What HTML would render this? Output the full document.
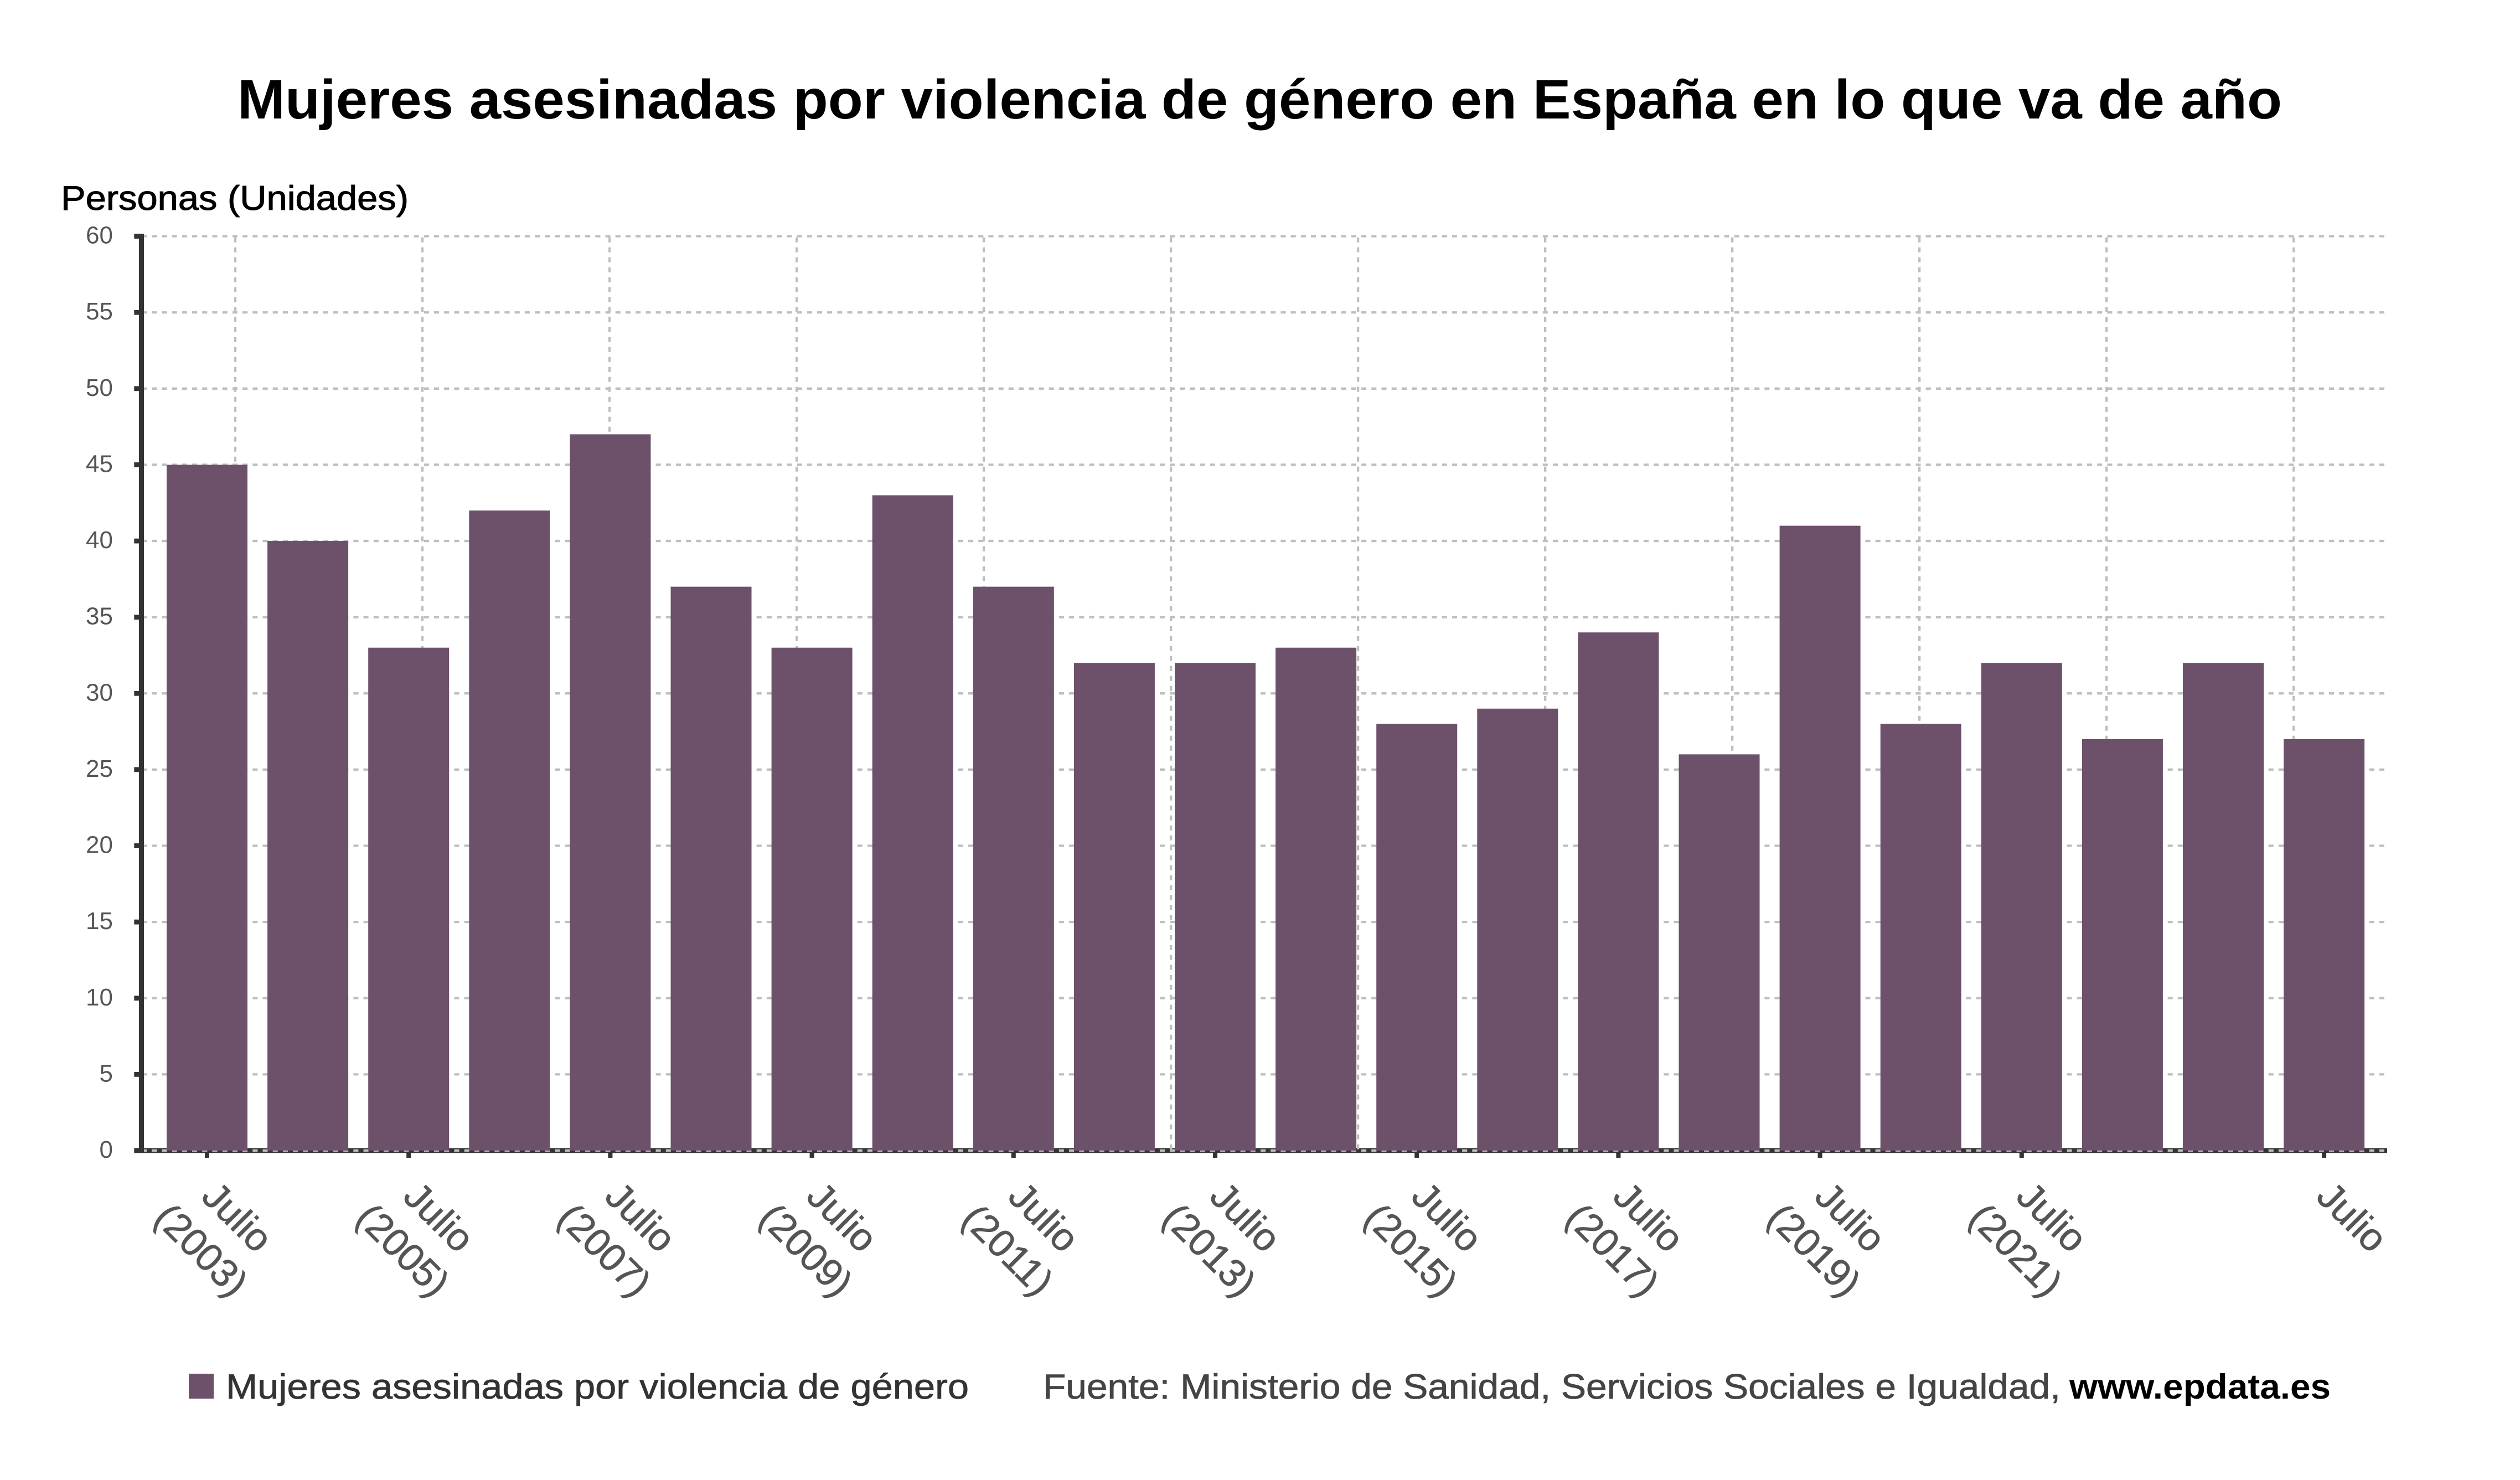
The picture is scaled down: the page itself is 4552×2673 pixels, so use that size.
<!DOCTYPE html>
<html lang="es">
<head>
<meta charset="utf-8">
<title>Mujeres asesinadas por violencia de género</title>
<style>
html,body{margin:0;padding:0;background:#fff;}
svg{display:block;font-family:"Liberation Sans",Arial,sans-serif;}
</style>
</head>
<body>
<svg id="chart" xmlns="http://www.w3.org/2000/svg" width="4552" height="2673" viewBox="0 0 4552 2673">
  <rect x="0" y="0" width="4552" height="2673" fill="#ffffff"/>
  <text x="429" y="214" font-size="100" font-weight="bold" fill="#000000" textLength="3693" lengthAdjust="spacingAndGlyphs">Mujeres asesinadas por violencia de género en España en lo que va de año</text>
  <text x="110" y="379" font-size="62" fill="#000000" stroke="#000000" stroke-width="1" textLength="628" lengthAdjust="spacingAndGlyphs">Personas (Unidades)</text>
  <g id="grid"></g>
  <g id="bars"></g>
  <g id="axes"></g>
  <rect x="341" y="2481" width="45" height="45" fill="#6d5069"/>
  <text x="408" y="2526" font-size="63" fill="#333333" stroke="#333333" stroke-width="0.8" textLength="1342" lengthAdjust="spacingAndGlyphs">Mujeres asesinadas por violencia de género</text>
  <text x="1884" y="2526" font-size="63" fill="#444444" stroke="#444444" stroke-width="0.8" textLength="1838" lengthAdjust="spacingAndGlyphs">Fuente: Ministerio de Sanidad, Servicios Sociales e Igualdad,</text>
  <text x="3738" y="2526" font-size="63" font-weight="bold" fill="#000000" textLength="472" lengthAdjust="spacingAndGlyphs">www.epdata.es</text>
</svg>
<script>
const years = [2003,2004,2005,2006,2007,2008,2009,2010,2011,2012,2013,2014,2015,2016,2017,2018,2019,2020,2021,2022,2023,2024];
const values = [45,40,33,42,47,37,33,43,37,32,32,33,28,29,34,26,41,28,32,27,32,27];
const yTicks = [0,5,10,15,20,25,30,35,40,45,50,55,60];
const xTickYears = [2003,2005,2007,2009,2011,2013,2015,2017,2019,2021,2024];
const xTickLine1 = ['Julio','Julio','Julio','Julio','Julio','Julio','Julio','Julio','Julio','Julio','Julio'];
const xTickLine2 = ['(2003)','(2005)','(2007)','(2009)','(2011)','(2013)','(2015)','(2017)','(2019)','(2021)',''];
const gridYears = [0,1,2,3,4,5,6,7,8,9,10,11];

const NS = 'http://www.w3.org/2000/svg';
const Y0 = 2078, Y60 = 426.6, yMax = 60;
const firstCenter = 374, pitch = 182.1, barW = 146;
const PLOT_RIGHT = 4307, AXIS_RIGHT = 4312;
const DASH = '9.1 9.107';
function yScale(v){ return Y0 - v * (Y0 - Y60) / yMax; }
function xScale(year){ return firstCenter + (year - years[0]) * pitch; }
function gridX(k){ return 425 + k * 338.02; }
function mk(tag, attrs){
  const el = document.createElementNS(NS, tag);
  for (const k in attrs) el.setAttribute(k, attrs[k]);
  return el;
}
const gridG = document.getElementById('grid');
const barsG = document.getElementById('bars');
const axesG = document.getElementById('axes');

// x-axis line sits below the gridlines
const xAxis = mk('rect', {x:243, y:2073.7, width:AXIS_RIGHT-243, height:8.6, fill:'#333333'});


gridG.appendChild(xAxis);

yTicks.forEach(function(t){
  const y = yScale(t);
  const line = mk('line', {x1:256, y1:y, x2:PLOT_RIGHT, y2:y, stroke:'#bfbfbf', 'stroke-width':4.3, 'stroke-dasharray':DASH});
  
  
  gridG.appendChild(line);
});
gridYears.forEach(function(k){
  const x = gridX(k);
  const line = mk('line', {x1:x, y1:428.7, x2:x, y2:Y0, stroke:'#bfbfbf', 'stroke-width':4.3, 'stroke-dasharray':'9 9'});
  
  
  gridG.appendChild(line);
});

values.forEach(function(v, i){
  const cx = xScale(years[i]);
  const top = yScale(v);
  const bar = mk('rect', {x:cx-barW/2, y:top, width:barW, height:yScale(0)-top, fill:'#6d5069'});
  
  
  barsG.appendChild(bar);
});

const yAxis = mk('rect', {x:251, y:422.3, width:9, height:1660, fill:'#333333'});


axesG.appendChild(yAxis);

yTicks.forEach(function(t){
  const y = yScale(t);
  const tick = mk('rect', {x:242.3, y:y-4.4, width:10, height:8.8, fill:'#333333'});
  
  
  axesG.appendChild(tick);
  const label = mk('text', {x:204, y:y+13, 'font-size':44, fill:'#555555', 'text-anchor':'end'});
  
  
  label.textContent = String(t);
  axesG.appendChild(label);
});

xTickYears.forEach(function(yr, i){
  const x = xScale(yr);
  const tick = mk('rect', {x:x-4, y:2080, width:8, height:11, fill:'#333333'});
  
  
  axesG.appendChild(tick);
  const hasYear = Boolean(xTickLine2[i]);
  const shift = hasYear ? 38 : 34;
  const label = mk('text', {'font-size':70, fill:'#555555', stroke:'#555555', 'stroke-width':0.8, 'text-anchor':'middle', transform:'translate(' + (x+shift) + ',2215) rotate(45)'});
  
  
  const l1 = mk('tspan', {x:0, y:0});
  l1.textContent = xTickLine1[i];
  label.appendChild(l1);
  if (hasYear) {
    const l2 = mk('tspan', {x:-4, y:88});
    l2.textContent = xTickLine2[i];
    label.appendChild(l2);
  }
  axesG.appendChild(label);
});
</script>
</body>
</html>
